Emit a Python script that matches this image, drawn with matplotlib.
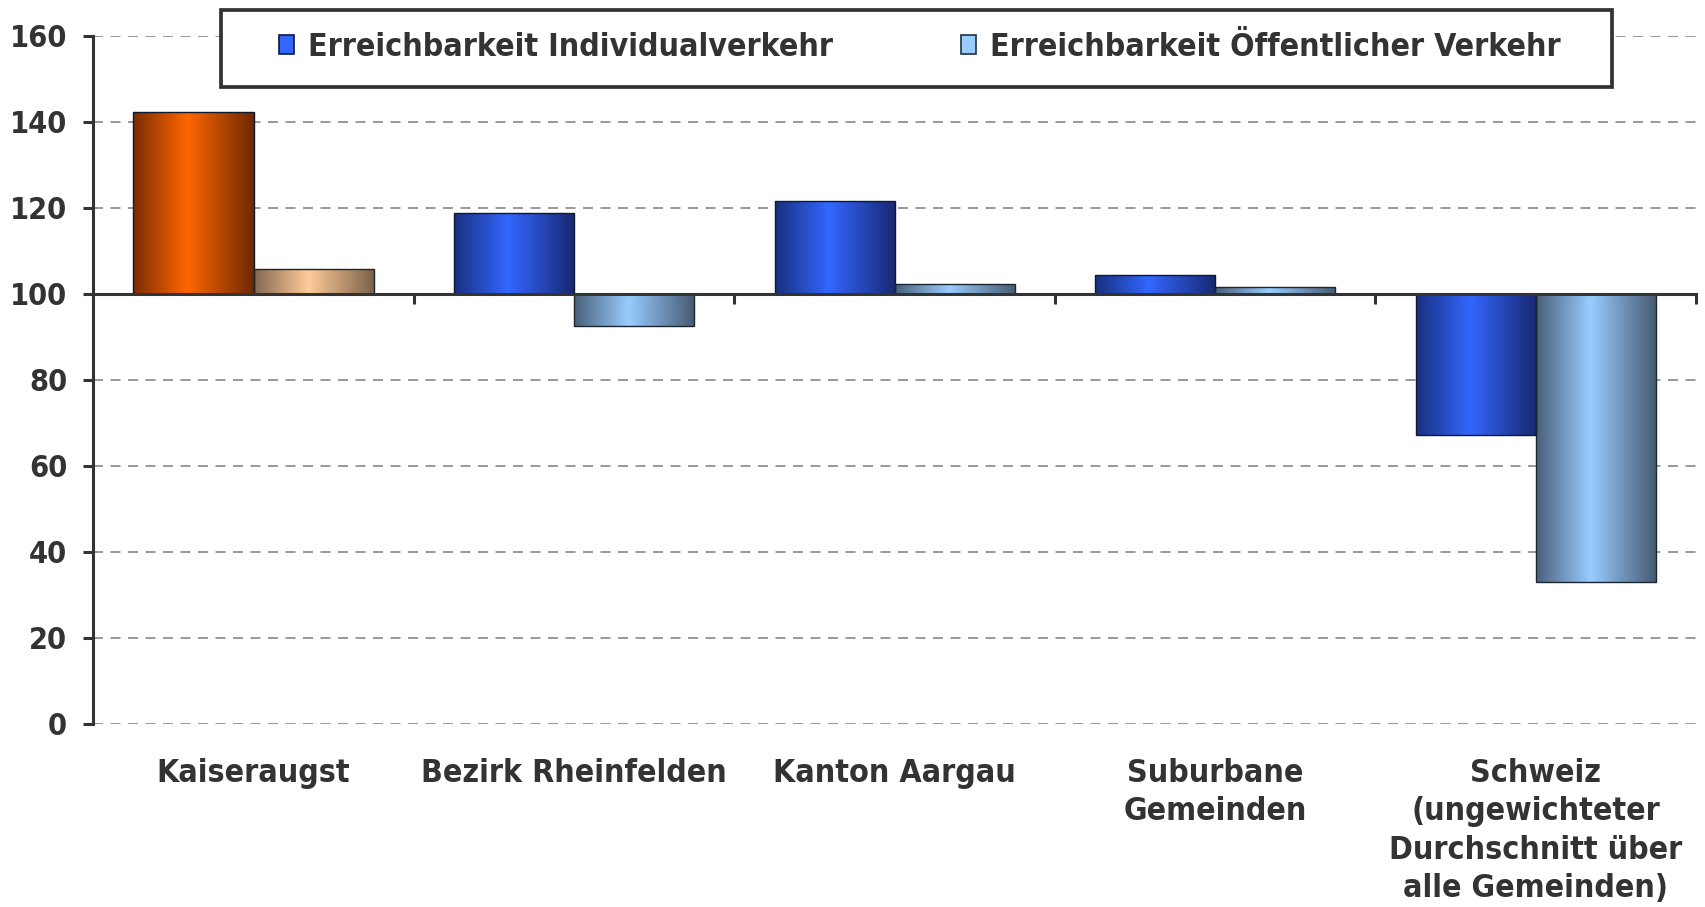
import numpy as np
import matplotlib
matplotlib.use("Agg")
import matplotlib.pyplot as plt
from matplotlib.colors import LinearSegmentedColormap
from matplotlib.patches import Patch, Rectangle

kategorien = ["Kaiseraugst", "Bezirk Rheinfelden", "Kanton Aargau",
              "Suburbane\nGemeinden",
              "Schweiz\n(ungewichteter\nDurchschnitt über\nalle Gemeinden)"]
individualverkehr = [142.3, 118.8, 121.6, 104.4, 67.2]
oeffentlicher_verkehr = [105.7, 92.5, 102.4, 101.6, 32.9]
serien = ["Erreichbarkeit Individualverkehr", "Erreichbarkeit Öffentlicher Verkehr"]
yticks = [0, 20, 40, 60, 80, 100, 120, 140, 160]
basis = 100

plt.rcParams['font.family'] = ['DejaVu Sans']
plt.rcParams['font.weight'] = 'bold'
plt.rcParams['font.stretch'] = 'condensed'
textfarbe = '#333333'

def verlauf(rand_l, mitte, rand_r):
    return LinearSegmentedColormap.from_list('v', [(0, rand_l), (0.45, mitte), (1, rand_r)])

blau = verlauf('#18307f', '#3366ff', '#182870')
hellblau = verlauf('#48607a', '#99ccff', '#465a72')
orange = verlauf('#7a2c00', '#ff6600', '#6e2800')
pfirsich = verlauf('#846650', '#ffcc99', '#7a6048')

fig = plt.figure(figsize=(17.05, 9.07), dpi=100)
ax = fig.add_axes([0.0548, 0.2018, 0.9399, 0.7586])

x = np.arange(len(kategorien))
b = 0.375
balken1 = ax.bar(x - b / 2, np.array(individualverkehr) - basis, b, bottom=basis,
                 facecolor='none', edgecolor='#101830', linewidth=1.0, zorder=3)
balken2 = ax.bar(x + b / 2, np.array(oeffentlicher_verkehr) - basis, b, bottom=basis,
                 facecolor='none', edgecolor='#1a2530', linewidth=1.0, zorder=3)

grad = np.linspace(0, 1, 256).reshape(1, -1)
for i, (r1, r2) in enumerate(zip(balken1, balken2)):
    cms = (orange, pfirsich) if i == 0 else (blau, hellblau)
    for r, cm in zip((r1, r2), cms):
        x0, w = r.get_x(), r.get_width()
        y0, h = r.get_y(), r.get_height()
        im = ax.imshow(grad, cmap=cm, aspect='auto', interpolation='bilinear',
                       extent=(x0, x0 + w, min(y0, y0 + h), max(y0, y0 + h)), zorder=2)
        im.set_clip_path(r)

ax.set_xlim(-0.5, len(kategorien) - 0.5)
ax.set_ylim(0, 160)

# grid
for y in yticks:
    if y != basis:
        ax.axhline(y, color='#888888', lw=1.2, ls=(0, (6, 4.5)), zorder=1)

# axes
for s in ['top', 'right']:
    ax.spines[s].set_visible(False)
ax.spines['left'].set_color(textfarbe)
ax.spines['left'].set_linewidth(2.2)
ax.spines['bottom'].set_position(('data', basis))
ax.spines['bottom'].set_color(textfarbe)
ax.spines['bottom'].set_linewidth(2.2)
ax.spines['bottom'].set_zorder(4)

ax.set_yticks(yticks)
ax.tick_params(axis='y', length=7, width=2.2, color=textfarbe, pad=12,
               labelsize=22, labelcolor=textfarbe)
ax.set_xticks([])
ax.set_xticks(x + 0.5, minor=True)
ax.tick_params(axis='x', which='minor', direction='out', length=7, width=2.2,
               color=textfarbe, labelbottom=False)

for xi, name in zip(x, kategorien):
    ax.text(xi, -0.049, name, transform=ax.get_xaxis_transform(), ha='center', va='top',
            fontsize=23, color=textfarbe, fontweight='bold', linespacing=1.31)

# legend frame
fig.patches.append(Rectangle((0.1296, 0.9041), 0.8158, 0.0854, transform=fig.transFigure,
                             facecolor='white', edgecolor=textfarbe, linewidth=2.7, zorder=5))
handles = [Patch(facecolor='#3366ff', edgecolor='#101840', linewidth=1.2),
           Patch(facecolor='#99ccff', edgecolor='#203040', linewidth=1.2)]
leg = fig.legend(handles, serien, loc='center', ncol=2,
                 bbox_to_anchor=(0.5393, 0.948), bbox_transform=fig.transFigure,
                 fontsize=23, frameon=False, borderpad=0,
                 handlelength=0.47, handleheight=0.56, handletextpad=0.44,
                 columnspacing=4.0, borderaxespad=0)
leg.set_zorder(6)
for t in leg.get_texts():
    t.set_color(textfarbe)
    t.set_fontweight('bold')

fig.savefig('out.png', dpi=100)
